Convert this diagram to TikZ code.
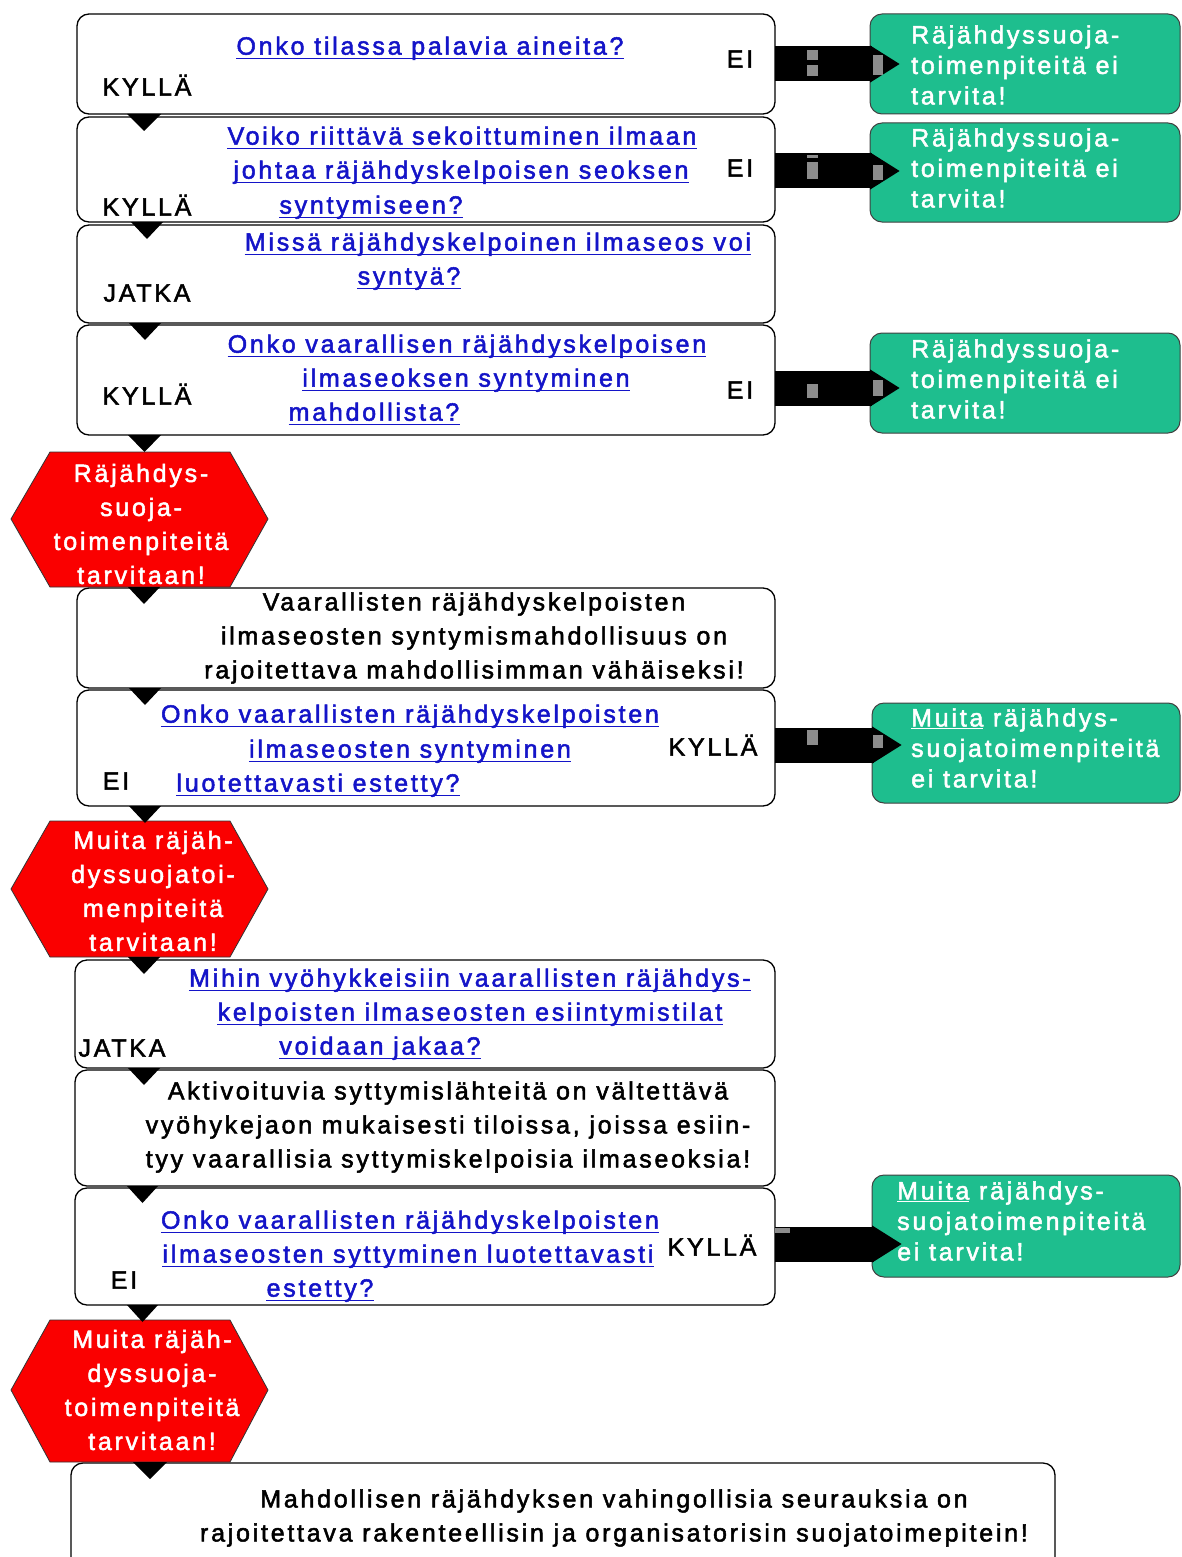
\documentclass[tikz,border=0pt]{standalone}
\usepackage{fontspec}
\setmainfont{Liberation Sans}[LetterSpace=11,FakeBold=2]
\usetikzlibrary{arrows.meta}
\definecolor{qblue}{RGB}{20,20,200}
\definecolor{fgreen}{RGB}{30,190,142}
\definecolor{fred}{RGB}{250,0,0}
\tikzset{
  box/.style={draw, line width=1.3pt, rounded corners=12pt, fill=white, inner sep=0pt, outer sep=0pt, anchor=north west},
  gbox/.style={draw=black!75, line width=1pt, fill=fgreen, rounded corners=12pt, inner sep=0pt, outer sep=0pt, anchor=north west},
  hexa/.style={draw=black!80, line width=0.8pt, fill=fred},
  qtext/.style={text=qblue, anchor=mid, inner sep=0pt, yshift=-6pt},
  ltext/.style={text=black, anchor=mid, inner sep=0pt, yshift=-6pt},
  btext/.style={text=black, align=center, inner sep=0pt},
  wtext/.style={text=white, align=center, inner sep=0pt},
  gtext/.style={text=white, align=left, anchor=west, inner sep=0pt, font=\fontsize{25pt}{30.5pt}\selectfont},
  conn/.style={fill=black},
  bigarrow/.style={line width=35pt, -{Triangle[length=30pt,width=35pt]}},
  artifact/.style={fill=black!45},
}
\newcommand\ql[3]{\node[qtext] (#1) at (#2) {#3};
  \draw[qblue, line width=1.2pt] ([yshift=-4pt]#1.base west) -- ([yshift=-4pt]#1.base east);}
\newcommand\conn[3]{\fill[conn] ([xshift=#2pt]#1) -- ++(#3,0) -- ++(-#3/2,17) -- cycle;}
\begin{document}
\begin{tikzpicture}[x=1pt, y=-1pt, font=\fontsize{25pt}{34pt}\selectfont]
\clip (0,0) rectangle (1181,1557);
\fill[white] (0,0) rectangle (1181,1557);

% ---- white boxes
\node[box, minimum width=698pt, minimum height=100pt] (b1) at (77,14) {};
\node[box, minimum width=698pt, minimum height=105pt] (b2) at (77,117) {};
\node[box, minimum width=698pt, minimum height=98pt] (b3) at (77,225) {};
\node[box, minimum width=698pt, minimum height=110pt] (b4) at (77,325) {};
\node[box, minimum width=698pt, minimum height=100pt] (b5) at (77,588) {};
\node[box, minimum width=698pt, minimum height=116pt] (b6) at (77,690) {};
\node[box, minimum width=700pt, minimum height=108pt] (b7) at (75,960) {};
\node[box, minimum width=700pt, minimum height=116pt] (b8) at (75,1070) {};
\node[box, minimum width=700pt, minimum height=117pt] (b9) at (75,1188) {};
\node[box, minimum width=984pt, minimum height=120pt] (b10) at (71,1463) {};

% ---- green boxes
\node[gbox, minimum width=310pt, minimum height=100pt] (g1) at (870,14) {};
\node[gbox, minimum width=310pt, minimum height=99pt] (g2) at (870,123) {};
\node[gbox, minimum width=310pt, minimum height=100pt] (g3) at (870,333) {};
\node[gbox, minimum width=308pt, minimum height=100pt] (g4) at (872,703) {};
\node[gbox, minimum width=308pt, minimum height=102pt] (g5) at (872,1175) {};

% ---- hexagons
\draw[hexa] (11,519) -- (50,452) -- (230,452) -- (268,519) -- (230,587) -- (50,587) -- cycle;
\coordinate (h1b) at (50,587);
\draw[hexa] (11,889) -- (50,821) -- (230,821) -- (268,889) -- (230,957) -- (50,957) -- cycle;
\coordinate (h2b) at (50,957);
\draw[hexa] (11,1390) -- (50,1320) -- (230,1320) -- (268,1390) -- (230,1462) -- (50,1462) -- cycle;
\coordinate (h3b) at (50,1462);

% ---- big arrows to green boxes
\draw[bigarrow] (b1.east) -- ([xshift=30pt]b1.east -| g1.west);
\draw[bigarrow] ([yshift=-1.5pt]b2.east) -- ([xshift=30pt,yshift=-1.5pt]b2.east -| g2.west);
\draw[bigarrow] ([yshift=-8pt]b4.east) -- ([xshift=30pt,yshift=-8pt]b4.east -| g3.west);
\draw[bigarrow] ([yshift=3pt]b6.east) -- ([xshift=30pt,yshift=3pt]b6.east -| g4.west);
\draw[bigarrow] ([yshift=2.5pt]b9.east) -- ([xshift=30pt,yshift=2.5pt]b9.east -| g5.west);
% grey rendering specks on the arrows
\fill[artifact] (807,50) rectangle (818,60); \fill[artifact] (807,65) rectangle (818,76); \fill[artifact] (873,55) rectangle (883,75);
\fill[artifact] (807,155) rectangle (818,158); \fill[artifact] (807,162) rectangle (818,179); \fill[artifact] (873,165) rectangle (883,180);
\fill[artifact] (807,384) rectangle (818,398); \fill[artifact] (873,380) rectangle (883,396);
\fill[artifact] (807,730) rectangle (818,745); \fill[artifact] (873,735) rectangle (883,748);
\fill[artifact] (775,1228) rectangle (790,1233);

% ---- connectors between the steps
\conn{b1.south west}{50}{34}
\conn{b2.south west}{54}{32}
\conn{b3.south west}{52}{32}
\conn{b4.south west}{51}{33}
\conn{h1b}{78}{32}
\conn{b5.south west}{52}{32}
\conn{b6.south west}{52}{32}
\conn{h2b}{78}{32}
\conn{b7.south west}{53}{32}
\conn{b8.south west}{52}{31}
\conn{b9.south west}{52}{31}
\conn{h3b}{83}{34}

% ---- box 1
\ql{q1a}{430,46}{Onko tilassa palavia aineita?}
\node[ltext] (y1) at (147,87) {KYLLÄ};
\node[ltext] (n1) at (740,59) {EI};
% ---- box 2
\ql{q2a}{462,136}{Voiko riittävä sekoittuminen ilmaan}
\ql{q2b}{461,170}{johtaa räjähdyskelpoisen seoksen}
\ql{q2c}{371,205}{syntymiseen?}
\node[ltext] (y2) at (147,207) {KYLLÄ};
\node[ltext] (n2) at (740,168) {EI};
% ---- box 3
\ql{q3a}{498,242}{Missä räjähdyskelpoinen ilmaseos voi}
\ql{q3b}{409,276}{syntyä?}
\node[ltext] (c3) at (147,293) {JATKA};
% ---- box 4
\ql{q4a}{467,344}{Onko vaarallisen räjähdyskelpoisen}
\ql{q4b}{466,378}{ilmaseoksen syntyminen}
\ql{q4c}{374,412}{mahdollista?}
\node[ltext] (y4) at (147,396) {KYLLÄ};
\node[ltext] (n4) at (740,390) {EI};
% ---- hexagon 1
\node[wtext] (h1) at (141,524) {Räjähdys-\\suoja-\\toimenpiteitä\\tarvitaan!};
% ---- box 5
\node[btext] (t5) at (474,638) {Vaarallisten räjähdyskelpoisten\\ilmaseosten syntymismahdollisuus on\\rajoitettava mahdollisimman vähäiseksi!};
% ---- box 6
\ql{q6a}{410,714}{Onko vaarallisten räjähdyskelpoisten}
\ql{q6b}{410,749}{ilmaseosten syntyminen}
\ql{q6c}{318,783}{luotettavasti estetty?}
\node[ltext] (y6) at (713,747) {KYLLÄ};
\node[ltext] (n6) at (116,781) {EI};
% ---- hexagon 2
\node[wtext] (h2) at (153,891) {Muita räjäh-\\dyssuojatoi-\\menpiteitä\\tarvitaan!};
% ---- box 7
\ql{q7a}{470,978}{Mihin vyöhykkeisiin vaarallisten räjähdys-}
\ql{q7b}{470,1012}{kelpoisten ilmaseosten esiintymistilat}
\ql{q7c}{380,1046}{voidaan jakaa?}
\node[ltext] (c7) at (122,1048) {JATKA};
% ---- box 8
\node[btext] (t8) at (448,1127) {Aktivoituvia syttymislähteitä on vältettävä\\vyöhykejaon mukaisesti tiloissa, joissa esiin-\\tyy vaarallisia syttymiskelpoisia ilmaseoksia!};
% ---- box 9
\ql{q9a}{410,1220}{Onko vaarallisten räjähdyskelpoisten}
\ql{q9b}{408,1254}{ilmaseosten syttyminen luotettavasti}
\ql{q9c}{320,1288}{estetty?}
\node[ltext] (y9) at (712,1247) {KYLLÄ};
\node[ltext] (n9) at (124,1280) {EI};
% ---- hexagon 3
\node[wtext] (h3) at (152,1390) {Muita räjäh-\\dyssuoja-\\toimenpiteitä\\tarvitaan!};
% ---- box 10
\node[btext] (t10) at (614,1518) {Mahdollisen räjähdyksen vahingollisia seurauksia on\\rajoitettava rakenteellisin ja organisatorisin suojatoimepitein!};

% ---- green box texts
\node[gtext] (gt1) at (911,65) {Räjähdyssuoja-\\toimenpiteitä ei\\tarvita!};
\node[gtext] (gt2) at (911,168) {Räjähdyssuoja-\\toimenpiteitä ei\\tarvita!};
\node[gtext] (gt3) at (911,379) {Räjähdyssuoja-\\toimenpiteitä ei\\tarvita!};
\node[gtext] (gt4) at (911,748) {\underline{Muita} räjähdys-\\suojatoimenpiteitä\\ei tarvita!};
\node[gtext] (gt5) at (897,1221) {\underline{Muita} räjähdys-\\suojatoimenpiteitä\\ei tarvita!};
\end{tikzpicture}
\end{document}
